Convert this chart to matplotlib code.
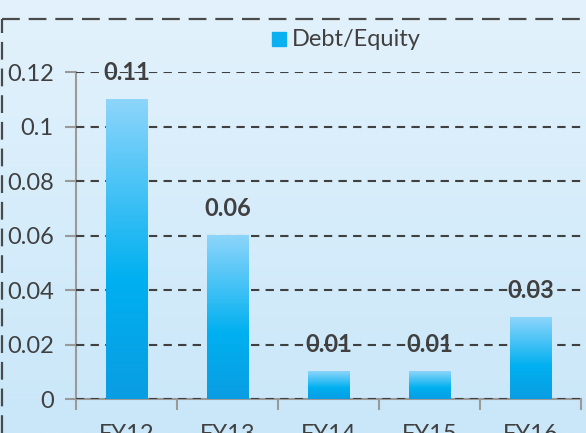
import numpy as np
import matplotlib.pyplot as plt
from matplotlib.colors import LinearSegmentedColormap
from matplotlib.patches import Rectangle
from matplotlib.lines import Line2D

# Data
years = ["FY12", "FY13", "FY14", "FY15", "FY16"]
debt_equity = [0.11, 0.06, 0.01, 0.01, 0.03]
y_ticks = [0, 0.02, 0.04, 0.06, 0.08, 0.1, 0.12]
y_tick_labels = ["0", "0.02", "0.04", "0.06", "0.08", "0.1", "0.12"]

plt.rcParams["font.family"] = ["Lato", "DejaVu Sans"]

fig = plt.figure(figsize=(5.86, 4.33), dpi=100)

# background gradient over whole figure
bg_ax = fig.add_axes([0, 0, 1, 1], zorder=-10)
bg_cmap = LinearSegmentedColormap.from_list("bg", ["#c9e7f9", "#e3f2fc"])
bg_ax.imshow(np.linspace(0, 1, 256).reshape(-1, 1), cmap=bg_cmap, aspect="auto",
             origin="lower", extent=[0, 1, 0, 1])
bg_ax.set_xlim(0, 1)
bg_ax.set_ylim(0, 1)
bg_ax.axis("off")

# dashed chart border (top and left)
fig.add_artist(Line2D([0.004, 1.0], [0.956, 0.956], transform=fig.transFigure,
                      color="#4a4a4a", lw=1.6, linestyle=(0, (8, 4))))
fig.add_artist(Line2D([0.004, 0.004], [0.0, 0.956], transform=fig.transFigure,
                      color="#4a4a4a", lw=1.6, linestyle=(0, (8, 4))))

ax = fig.add_axes([0.1297, 0.0785, 0.8618, 0.7552])
ax.patch.set_alpha(0)

x = np.arange(len(years))
bars = ax.bar(x, debt_equity, width=0.41, color="none", zorder=3)

bar_cmap = LinearSegmentedColormap.from_list(
    "bar", [(0, "#0a9de3"), (0.4, "#00b0f0"), (1, "#8dd5fb")])
grad = np.linspace(0, 1, 256).reshape(-1, 1)
for b in bars:
    x0, y0 = b.get_x(), b.get_y()
    w, h = b.get_width(), b.get_height()
    ax.imshow(grad, cmap=bar_cmap, aspect="auto", origin="lower",
              extent=[x0, x0 + w, y0, y0 + h], zorder=3)

# data labels
for xi, v in zip(x, debt_equity):
    ax.text(xi, v + 0.01, f"{v:.2f}", ha="center", va="center",
            fontsize=17, fontweight="bold", color="#404040", zorder=5)

ax.set_xlim(-0.5, len(years) - 0.5)
ax.set_ylim(0, 0.12)
ax.set_yticks(y_ticks)
ax.set_yticklabels(y_tick_labels)

ax.set_xticks(np.arange(len(years) + 1) - 0.5)
ax.set_xticklabels([])
ax.set_xticks(x, minor=True)
ax.set_xticklabels(years, minor=True)
ax.tick_params(axis="x", which="major", length=8, width=1.5, color="#9a9a9a", direction="out")
ax.tick_params(axis="x", which="minor", length=0, pad=18, labelsize=17, labelcolor="#404040")
ax.tick_params(axis="y", length=8, width=1.5, color="#9a9a9a", pad=8,
               labelsize=17, labelcolor="#404040")

for s in ["top", "right"]:
    ax.spines[s].set_visible(False)
for s in ["left", "bottom"]:
    ax.spines[s].set_color("#9a9a9a")
    ax.spines[s].set_linewidth(1.5)

ax.yaxis.grid(True, color="#404040", linestyle=(0, (4, 3)), linewidth=1.5, zorder=4)
ax.set_axisbelow(False)
for gl in ax.get_ygridlines():
    gl.set_zorder(4)

# legend
fig.add_artist(Rectangle((272 / 586, 1 - 46 / 433), 14 / 586, 14 / 433,
                         transform=fig.transFigure, color="#0bb0f0"))
fig.text(292 / 586, 1 - 39 / 433, "Debt/Equity", fontsize=17, color="#404040",
         va="center", ha="left")

plt.savefig("out.png", dpi=100)
